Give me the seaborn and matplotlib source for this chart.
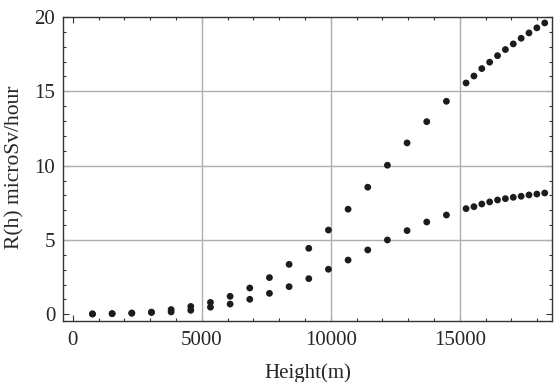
import numpy as np
import pandas as pd
import matplotlib
matplotlib.use("Agg")
import matplotlib.pyplot as plt
import seaborn as sns
from matplotlib.ticker import MultipleLocator

# --- DATA ---
heights_m = [762, 1524, 2286, 3048, 3810, 4572, 5334, 6096, 6858, 7620,
             8382, 9144, 9906, 10668, 11430, 12192, 12954, 13716, 14478,
             15240, 15545, 15850, 16154, 16459, 16764, 17069, 17374, 17678,
             17983, 18288]
rate_low = [0.02, 0.04, 0.07, 0.12, 0.16, 0.27, 0.48, 0.69, 1.01, 1.41,
            1.86, 2.40, 3.03, 3.65, 4.33, 5.00, 5.63, 6.21, 6.68,
            7.11, 7.24, 7.42, 7.56, 7.69, 7.78, 7.87, 7.94, 8.03, 8.09, 8.16]
rate_high = [0.03, 0.05, 0.09, 0.15, 0.32, 0.53, 0.80, 1.21, 1.77, 2.47,
             3.36, 4.44, 5.67, 7.07, 8.55, 10.03, 11.53, 12.96, 14.33,
             15.56, 16.03, 16.53, 16.96, 17.40, 17.81, 18.19, 18.57, 18.93, 19.27, 19.60]

df = pd.DataFrame({
    'h': heights_m * 2,
    'r': rate_low + rate_high,
    'serie': ['low'] * len(rate_low) + ['high'] * len(rate_high),
})

# --- STYLE ---
sns.set_style('ticks')
plt.rcParams['font.family'] = ['Liberation Serif', 'DejaVu Serif']

fig = plt.figure(figsize=(5.54, 3.82), dpi=100)
# axes frame: x 63..552 px, y 17..321 px
ax = fig.add_axes([63 / 554, 61 / 382, 489 / 554, 304 / 382])

sns.scatterplot(data=df, x='h', y='r', hue='serie', palette=['#1c1c1c', '#1c1c1c'],
                s=24, edgecolor='none', legend=False, ax=ax, zorder=3)

ax.set_xlim(-380, 18570)
ax.set_ylim(-0.45, 20)

ax.xaxis.set_major_locator(MultipleLocator(5000))
ax.xaxis.set_minor_locator(MultipleLocator(1000))
ax.yaxis.set_major_locator(MultipleLocator(5))
ax.yaxis.set_minor_locator(MultipleLocator(1))

# grille seulement sur les graduations intérieures
for gx in [5000, 10000, 15000]:
    ax.axvline(gx, color='#b0b0b0', lw=1.0, zorder=1)
for gy in [5, 10, 15]:
    ax.axhline(gy, color='#b0b0b0', lw=1.0, zorder=1)

ax.tick_params(which='both', direction='in', top=True, right=True,
               labelsize=15, color='#333333', width=0.8)
ax.tick_params(axis='x', pad=7.5)
ax.tick_params(axis='y', pad=5.5)
ax.tick_params(which='major', length=4.5)
ax.tick_params(which='minor', length=2.5)
for sp in ax.spines.values():
    sp.set_color('#333333')
    sp.set_linewidth(1.0)

ax.set_xlabel('Height(m)', fontsize=15)
ax.set_ylabel('R(h) microSv/hour', fontsize=15.5)
ax.xaxis.label.set_va('baseline')
ax.xaxis.set_label_coords(0.5, -0.1875)
ax.yaxis.set_label_coords(-0.078, 0.505)

fig.savefig('out.png', dpi=100)
